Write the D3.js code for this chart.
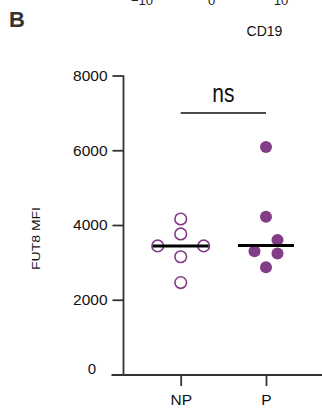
<!DOCTYPE html>
<html>
<head>
<meta charset="utf-8">
<script src="https://cdn.jsdelivr.net/npm/d3@7"></script>
<style>
  body { margin: 0; background: #fff; }
  svg { display: block; }
  text { font-family: "Liberation Sans", Arial, sans-serif; }
</style>
</head>
<body>
<div id="chart"></div>
<script>
// data
var groups = ['NP', 'P'];
var npValues = [4160, 3760, 3440, 3440, 3150, 2460];
var pValues = [6090, 4220, 3600, 3300, 3240, 2870];
// side-by-side slot of each point (prism-style scatter), in point widths
var npSlots = [0, 0, -2, 2, 0, 0];
var pSlots = [0, 0, 1, -1, 1, 0];
var yTicks = [2000, 4000, 6000, 8000];
var sigLevel = 7000;
var sigLabel = 'ns';
var topTicks = ['\u221210', '0', '10'];

var W = 322, H = 413;
var PURPLE = '#833c86';

var svg = d3.select('#chart').append('svg')
    .attr('width', W)
    .attr('height', H);

// panel letter and bits of the flow plot above (cut off at the top edge)
svg.append('text')
    .attr('x', 9).attr('y', 26.5)
    .attr('font-size', 22).attr('font-weight', 'bold')
    .attr('fill', '#333')
    .text('B');

var topX = d3.scaleLinear().domain([0, 2]).range([142, 281]);
svg.selectAll('.toptick')
    .data(topTicks)
    .enter().append('text')
    .attr('class', 'toptick')
    .attr('x', function(d, i) { return topX(i); })
    .attr('y', 4.5)
    .attr('text-anchor', 'middle')
    .attr('font-family', 'DejaVu Sans')
    .attr('font-size', 13)
    .attr('fill', '#222')
    .text(function(d) { return d; });

svg.append('text')
    .attr('x', 264.5).attr('y', 36)
    .attr('text-anchor', 'middle')
    .attr('font-family', 'DejaVu Sans')
    .attr('font-size', 14)
    .attr('fill', '#111')
    .text('CD19');

// scales
var y = d3.scaleLinear().domain([0, 8000]).range([374.5, 75.5]);
var x = d3.scalePoint().domain(groups).range([180.7, 266]);
var slotW = 11.5;
var axisX = 123.5, axisY = 375;

// y axis
var yAxis = svg.append('g')
    .attr('transform', 'translate(' + axisX + ',0)')
    .call(d3.axisLeft(y).tickValues(yTicks).tickFormat(d3.format('d'))
        .tickSize(11).tickPadding(5));
yAxis.select('.domain').remove();
yAxis.append('line')
    .attr('x1', 0).attr('x2', 0)
    .attr('y1', y(8000)).attr('y2', axisY)
    .attr('stroke', '#333').attr('stroke-width', 1.8);
yAxis.selectAll('.tick line').attr('stroke', '#333').attr('stroke-width', 1.8);
yAxis.selectAll('.tick text')
    .attr('font-family', '"Liberation Sans", Arial, sans-serif')
    .attr('font-size', 15.5)
    .attr('fill', '#111');

// zero label sits on its own, left of the axis start
svg.append('text')
    .attr('x', 96).attr('y', 374)
    .attr('text-anchor', 'end')
    .attr('font-size', 15)
    .attr('fill', '#111')
    .text('0');

// x axis
var xAxis = svg.append('g')
    .attr('transform', 'translate(0,' + axisY + ')')
    .call(d3.axisBottom(x).tickSize(11).tickPadding(8));
xAxis.select('.domain').remove();
xAxis.append('line')
    .attr('x1', 111.5).attr('x2', W)
    .attr('y1', 0).attr('y2', 0)
    .attr('stroke', '#333').attr('stroke-width', 2);
xAxis.selectAll('.tick line').attr('stroke', '#333').attr('stroke-width', 1.8);
xAxis.selectAll('.tick text')
    .attr('font-family', '"Liberation Sans", Arial, sans-serif')
    .attr('font-size', 15.5)
    .attr('fill', '#111');

// y axis title (squashed in the original)
svg.append('text')
    .attr('transform', 'translate(40,238.5) rotate(-90)')
    .attr('text-anchor', 'middle')
    .attr('font-size', 10)
    .attr('textLength', 63)
    .attr('lengthAdjust', 'spacingAndGlyphs')
    .attr('fill', '#111')
    .text('FUT8 MFI');

// points
var series = [
    {key: 'NP', values: npValues, slots: npSlots, open: true},
    {key: 'P', values: pValues, slots: pSlots, open: false}
];

series.forEach(function(s) {
    var g = svg.append('g').attr('class', 'group');
    g.selectAll('circle')
        .data(s.values)
        .enter().append('circle')
        .attr('cx', function(d, i) { return x(s.key) + s.slots[i] * slotW; })
        .attr('cy', function(d) { return y(d); })
        .attr('r', s.open ? 5.8 : 6)
        .attr('fill', s.open ? 'none' : PURPLE)
        .attr('stroke', s.open ? PURPLE : 'none')
        .attr('stroke-width', 1.6);
    var med = d3.median(s.values);
    g.append('line')
        .attr('x1', x(s.key) - 28).attr('x2', x(s.key) + 28)
        .attr('y1', y(med)).attr('y2', y(med))
        .attr('stroke', '#000').attr('stroke-width', 3);
});

// significance bar
svg.append('line')
    .attr('x1', x('NP')).attr('x2', x('P'))
    .attr('y1', y(sigLevel)).attr('y2', y(sigLevel))
    .attr('stroke', '#111').attr('stroke-width', 1.5);
svg.append('text')
    .attr('transform', 'translate(' + (x('NP') + x('P')) / 2 + ',' + (y(sigLevel) - 10.5) + ') scale(1,1.22)')
    .attr('text-anchor', 'middle')
    .attr('font-size', 21)
    .attr('fill', '#111')
    .text(sigLabel);
</script>
</body>
</html>
